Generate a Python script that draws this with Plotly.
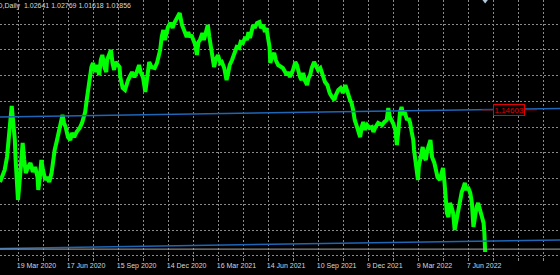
import plotly.graph_objects as go

# ---- data ----
symbol_title = "EURUSD,Daily"
ohlc_values = ["1.02641", "1.02769", "1.01618", "1.01856"]
bid_price = 1.01856
label_price = 1.14603
label_text = "1.14603"

bars = [0, 6, 9, 12, 14, 15, 17, 19, 20, 22, 23, 26, 28, 29, 31, 33, 36, 39, 42, 45,
        48, 49, 51, 53, 55, 58, 60, 63, 66, 68, 70, 73, 76, 78, 80, 82, 84, 87, 90, 92,
        95, 98, 102, 105, 107, 109, 111, 113, 115, 117, 119, 122, 124, 127, 129, 131, 134, 136, 137, 140,
        142, 144, 146, 148, 151, 153, 154, 157, 160, 164, 169, 172, 175, 178, 180, 183, 186, 189, 191, 194,
        198, 201, 203, 205, 207, 209, 211, 213, 215, 218, 221, 223, 226, 228, 230, 233, 235, 237, 239, 241,
        243, 245, 247, 250, 252, 254, 256, 259, 261, 263, 266, 268, 270, 272, 274, 276, 279, 282, 284, 287,
        290, 292, 294, 297, 300, 303, 306, 308, 311, 314, 316, 318, 320, 322, 324, 326, 329, 332, 334, 337,
        339, 341, 343, 345, 346, 348, 351, 353, 356, 359, 362, 365, 367, 369, 371, 375, 378, 380, 382, 384,
        386, 388, 390, 393, 395, 397, 399, 402, 404, 407, 410, 413, 416, 419, 422, 425, 428, 430, 433, 436,
        439, 442, 444, 446, 448, 450, 452, 454, 457, 459, 461, 463, 465, 467, 470, 473, 476, 478, 480, 484,
        489, 492, 495, 497, 499, 501, 503, 506, 508, 510, 512, 514, 516, 518, 521, 523, 525, 527, 529, 530,
        532, 535, 536, 539, 541, 543, 545, 547, 550, 551, 553, 556, 558, 560, 563, 565, 567, 569, 570, 572,
        574, 576, 578, 580, 582, 585, 587, 589, 591, 593, 595, 597, 599, 602, 604, 606, 608, 610, 612, 614,
        617, 619, 620, 621]

prices = [1.0800, 1.0910, 1.1028, 1.1248, 1.1367, 1.1495, 1.1340, 1.1184, 1.1001, 1.0754,
          1.0635, 1.0882, 1.1065, 1.1157, 1.1001, 1.0882, 1.0937, 1.0974, 1.0891, 1.0937,
          1.0845, 1.0727, 1.0845, 1.1001, 1.0910, 1.0818, 1.0845, 1.0800, 1.0882, 1.1001,
          1.1093, 1.1184, 1.1276, 1.1367, 1.1413, 1.1340, 1.1303, 1.1211, 1.1184, 1.1248,
          1.1211, 1.1257, 1.1294, 1.1340, 1.1394, 1.1440, 1.1550, 1.1669, 1.1760, 1.1852,
          1.1889, 1.1806, 1.1870, 1.1779, 1.1916, 1.1962, 1.1843, 1.1806, 1.1916, 1.1980,
          1.2008, 1.1889, 1.1825, 1.1898, 1.1870, 1.1852, 1.1760, 1.1660, 1.1642, 1.1733,
          1.1806, 1.1760, 1.1806, 1.1870, 1.1806, 1.1760, 1.1623, 1.1806, 1.1898, 1.1852,
          1.1843, 1.1889, 1.1934, 1.2008, 1.2126, 1.2191, 1.2099, 1.2172, 1.2218, 1.2255,
          1.2209, 1.2255, 1.2300, 1.2328, 1.2346, 1.2236, 1.2191, 1.2163, 1.2126, 1.2172,
          1.2126, 1.2145, 1.2099, 1.2053, 1.1962, 1.2081, 1.2099, 1.2163, 1.2099, 1.2172,
          1.2236, 1.2126, 1.2035, 1.1962, 1.1852, 1.1916, 1.1962, 1.1889, 1.1898, 1.1843,
          1.1733, 1.1797, 1.1870, 1.1916, 1.1980, 1.2035, 1.2026, 1.2081, 1.2072, 1.2126,
          1.2099, 1.2172, 1.2117, 1.2191, 1.2236, 1.2209, 1.2255, 1.2264, 1.2209, 1.2236,
          1.2172, 1.2209, 1.2126, 1.2035, 1.1889, 1.1943, 1.1980, 1.1916, 1.1870, 1.1852,
          1.1843, 1.1806, 1.1779, 1.1806, 1.1760, 1.1825, 1.1898, 1.1870, 1.1806, 1.1760,
          1.1733, 1.1797, 1.1733, 1.1687, 1.1751, 1.1779, 1.1843, 1.1898, 1.1870, 1.1825,
          1.1843, 1.1779, 1.1715, 1.1687, 1.1614, 1.1577, 1.1550, 1.1596, 1.1642, 1.1660,
          1.1614, 1.1687, 1.1623, 1.1596, 1.1550, 1.1523, 1.1459, 1.1367, 1.1303, 1.1257,
          1.1211, 1.1303, 1.1349, 1.1276, 1.1321, 1.1294, 1.1303, 1.1257, 1.1294, 1.1340,
          1.1321, 1.1349, 1.1367, 1.1477, 1.1394, 1.1367, 1.1340, 1.1276, 1.1138, 1.1276,
          1.1440, 1.1486, 1.1413, 1.1440, 1.1367, 1.1385, 1.1340, 1.1257, 1.1184, 1.1093,
          1.0974, 1.0818, 1.0937, 1.1028, 1.1120, 1.1028, 1.1001, 1.1093, 1.1157, 1.1184,
          1.1028, 1.0974, 1.0910, 1.0845, 1.0818, 1.0882, 1.0928, 1.0791, 1.0662, 1.0516,
          1.0479, 1.0608, 1.0571, 1.0516, 1.0361, 1.0479, 1.0571, 1.0635, 1.0708, 1.0745,
          1.0791, 1.0727, 1.0754, 1.0699, 1.0608, 1.0388, 1.0516, 1.0571, 1.0608, 1.0544,
          1.0479, 1.0425, 1.0333, 1.0159]

date_labels = ["19 Mar 2020", "17 Jun 2020", "15 Sep 2020", "14 Dec 2020", "16 Mar 2021",
               "14 Jun 2021", "10 Sep 2021", "9 Dec 2021", "9 Mar 2022", "7 Jun 2022"]
first_label_text = "19 Dec 2019"

channel_bars = [-20, 740]
channel_upper = [1.1393, 1.1475]
channel_lower = [1.0189, 1.0272]
label_line_bars = [617, 687]
arrow_bar = 621

# ---- layout constants ----
W, H = 560, 275
BOTTOM = 18
px_per_bar = 0.78125
x_max = W / px_per_bar
y_top = 1.2465
price_per_px = 0.000915
y_bottom = y_top - price_per_px * (H - BOTTOM)

grid_x0 = 23.4
grid_dx = 32
x_tickvals = [grid_x0 + grid_dx * k for k in range(22)]
x_ticktext = []
for k in range(22):
    if k % 2 == 0 and k // 2 < len(date_labels):
        x_ticktext.append(date_labels[k // 2])
    else:
        x_ticktext.append("")
y_tickvals = [y_top - price_per_px * (24 + 25.75 * k) for k in range(10)]

GREEN = "#00ff00"
BLUE = "#1f66b8"
GRID = "#8a8a8a"
TEXT = "#d8d8d8"
FONT = "Liberation Sans"

fig = go.Figure()

fig.add_trace(go.Scatter(x=bars, y=prices, mode="lines",
                         line=dict(color=GREEN, width=4), hoverinfo="skip"))
fig.add_trace(go.Scatter(x=channel_bars, y=channel_upper, mode="lines",
                         line=dict(color=BLUE, width=1.5), hoverinfo="skip"))
fig.add_trace(go.Scatter(x=channel_bars, y=channel_lower, mode="lines",
                         line=dict(color=BLUE, width=1.5), hoverinfo="skip"))
fig.add_trace(go.Scatter(x=channel_bars, y=[bid_price, bid_price], mode="lines",
                         line=dict(color="#a8a8a8", width=1), hoverinfo="skip"))
fig.add_trace(go.Scatter(x=label_line_bars, y=[label_price, label_price], mode="lines",
                         line=dict(color="#d00000", width=1), hoverinfo="skip"))
fig.add_trace(go.Scatter(x=[arrow_bar], y=[y_top], mode="markers",
                         marker=dict(symbol="triangle-down", size=7, color="#b0c8e0"),
                         hoverinfo="skip"))

fig.add_annotation(x=(label_line_bars[0] + label_line_bars[1]) / 2, y=label_price,
                   xref="x", yref="y", text=label_text, showarrow=False,
                   font=dict(family=FONT, size=8, color="#e00000"),
                   bordercolor="#e00000", borderwidth=1, borderpad=0.5, bgcolor="#000000")

title_text = symbol_title + "\u00a0 " + " ".join(ohlc_values)
fig.add_annotation(x=-29.0 / W, y=1, xref="paper", yref="paper", xanchor="left", yanchor="top",
                   text=title_text, showarrow=False,
                   font=dict(family=FONT, size=7, color=TEXT))

fig.add_annotation(x=grid_x0 - 2 * grid_dx, y=0, xref="x", yref="paper",
                   xanchor="left", yanchor="top", yshift=-6, xshift=-2,
                   text=first_label_text, showarrow=False,
                   font=dict(family=FONT, size=7, color=TEXT))

fig.update_layout(
    width=W, height=H,
    margin=dict(l=0, r=0, t=0, b=BOTTOM),
    paper_bgcolor="#000000", plot_bgcolor="#000000",
    showlegend=False,
    xaxis=dict(range=[0, x_max], tickmode="array", tickvals=x_tickvals, ticktext=x_ticktext,
               showgrid=True, gridcolor=GRID, griddash="2px,2px", gridwidth=1,
               zeroline=False, showline=False, ticks="outside", ticklen=3, tickcolor=GRID,
               ticklabelposition="outside right", ticklabelstandoff=2, ticklabelshift=-2,
               tickfont=dict(family=FONT, size=7, color=TEXT)),
    yaxis=dict(range=[y_bottom, y_top], tickmode="array", tickvals=y_tickvals,
               showticklabels=False, showgrid=True, gridcolor=GRID, griddash="2px,2px",
               gridwidth=1, zeroline=False, showline=False),
)

fig.write_html("out.html")
